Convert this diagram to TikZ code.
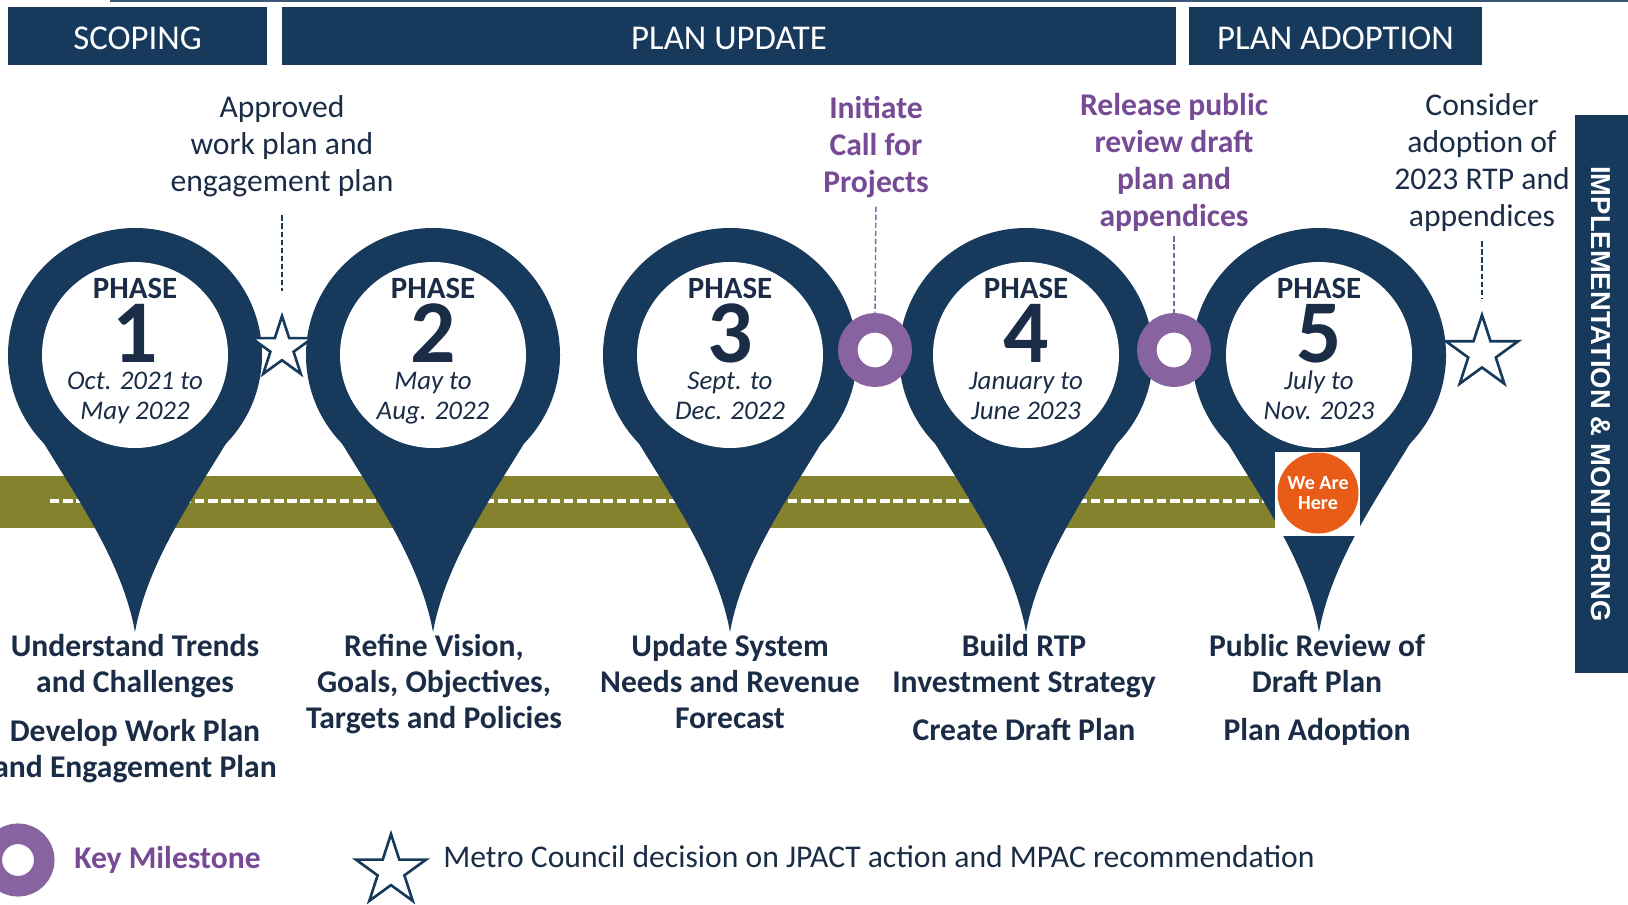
\documentclass[tikz,border=0pt]{standalone}
\usepackage{fontspec}
\setmainfont{Carlito}
\newfontfamily\sidefont{Liberation Sans}
\usetikzlibrary{shapes.geometric}

\definecolor{rtpnavy}{RGB}{23,58,92}
\definecolor{rtpink}{RGB}{27,45,70}
\definecolor{rtppurple}{RGB}{135,99,160}
\definecolor{rtpviolet}{RGB}{118,74,148}
\definecolor{rtpolive}{RGB}{132,130,44}
\definecolor{rtporange}{RGB}{233,92,23}

\tikzset{
  headtext/.style={text=white, font=\fontsize{19.8}{24}\selectfont, anchor=base, inner sep=0},
  phasehead/.style={text=rtpink, font=\bfseries\fontsize{17.6}{20}\selectfont, anchor=base, inner sep=0},
  phasenum/.style={text=rtpink, font=\bfseries\fontsize{51}{55}\selectfont, anchor=base, inner sep=0},
  phasedate/.style={text=rtpink, font=\itshape\fontsize{15.3}{17}\selectfont, anchor=base, inner sep=0},
  toplabel/.style={text=rtpink, font=\fontsize{18}{21.2}\selectfont, align=center, anchor=base, inner sep=0},
  keylabel/.style={toplabel, text=rtpviolet, font=\bfseries\fontsize{18}{21.2}\selectfont},
  steplabel/.style={text=rtpink, font=\bfseries\fontsize{18}{20.3}\selectfont, align=center, anchor=base, inner sep=0},
  milestone/.style={circle, draw=rtppurple, fill=white, line width=11.1pt, minimum size=31pt, inner sep=0},
  council/.style={star, star points=5, star point ratio=2.618, draw=rtpnavy, fill=white, line width=1.5pt, inner sep=0},
  navydash/.style={rtpnavy, line width=0.8pt, dash pattern=on 3pt off 1.6pt},
  violetdash/.style={navydash, rtppurple},
}

\begin{document}
\begin{tikzpicture}[x=0.02cm, y=-0.02cm]
  \useasboundingbox (0,0) rectangle (1628,905);

  % header bars
  \draw[rtpnavy!85!white, line width=1.4pt] (110,1) -- (1628,1);
  \fill[rtpnavy] (8,7) rectangle (267,65);
  \fill[rtpnavy] (282,7) rectangle (1176,65);
  \fill[rtpnavy] (1189,7) rectangle (1482,65);
  \node[headtext] (scoping) at (137.5,50) {SCOPING};
  \node[headtext] (update) at (729,50) {PLAN UPDATE};
  \node[headtext] (adoption) at (1335.5,50) {PLAN ADOPTION};

  \fill[rtpnavy] (1575,115) rectangle (1628,673);
  \node[rotate=-90, text=white, font=\sidefont\bfseries\fontsize{15.6}{18}\selectfont, inner sep=0] (implement) at (1601,394) {IMPLEMENTATION \& MONITORING};

  % road
  \fill[rtpolive] (0,476) rectangle (1275,528);
  \draw[white, line width=1.9pt, dash pattern=on 5.4pt off 2.1pt] (50,501) -- (1265,501);

  % phase pins
  \foreach \cx/\n/\dfrom/\dto in {135/1/Oct. 2021 to/May 2022, 433/2/May to/Aug. 2022,
      730/3/Sept. to/Dec. 2022, 1026/4/January to/June 2023, 1319/5/July to/Nov. 2023} {
    \fill[rtpnavy] (\cx,355) circle[radius=127];
    \fill[rtpnavy] (\cx-127,355) .. controls (\cx-127,420) and (\cx-20,520) .. (\cx,632)
      .. controls (\cx+20,520) and (\cx+127,420) .. (\cx+127,355) -- cycle;
    \fill[white] (\cx,355) circle[radius=93];
    \node[phasehead] (phase\n) at (\cx,298) {PHASE};
    \node[phasenum] (num\n) at (\cx,362) {\n};
    \node[phasedate] (from\n) at (\cx,389) {\dfrom};
    \node[phasedate] (to\n) at (\cx,419) {\dto};
  }

  % current position
  \fill[white] (1275,452) rectangle (1360,536);
  \node[circle, fill=rtporange, minimum size=46.1pt, inner sep=0, text=white, align=center,
    font=\bfseries\fontsize{11.4}{11.6}\selectfont] (here) at (1318,493) {We Are\\Here};

  % milestones and decisions
  \node[council, minimum size=36.4pt] (star1) at (282,348) {};
  \node[milestone] (ms1) at (875,350) {};
  \node[milestone] (ms2) at (1174,350) {};
  \node[council, minimum size=43.2pt] (star2) at (1482,353) {};

  % base is the last line of each label
  \node[toplabel] (approved) at (282,192) {Approved\\work plan and\\engagement plan};
  \node[keylabel] (initiate) at (876,193) {Initiate\\Call for\\Projects};
  \node[keylabel] (release) at (1174,227) {Release public\\review draft\\plan and\\appendices};
  \node[toplabel] (consider) at (1482,227) {Consider\\adoption of\\2023 RTP and\\appendices};

  \draw[navydash, shorten <=10pt, shorten >=12pt] (approved.south) -- (star1.north);
  \draw[violetdash, shorten <=4.5pt] (initiate.south) -- (ms1.north);
  \draw[violetdash, shorten <=2.3pt] (release.south) -- (ms2.north);
  \draw[navydash, shorten <=5pt, shorten >=7pt] (consider.south) -- (star2.north);

  % tasks below each pin
  \node[steplabel] (task1a) at (135,692) {Understand Trends\\and Challenges};
  \node[steplabel] (task1b) at (135,777) {Develop Work Plan\\and Engagement Plan};
  \node[steplabel] (task2) at (434,728) {Refine Vision,\\Goals, Objectives,\\Targets and Policies};
  \node[steplabel] (task3) at (730,728) {Update System\\Needs and Revenue\\Forecast};
  \node[steplabel] (task4a) at (1024,692) {Build RTP\\Investment Strategy};
  \node[steplabel] (task4b) at (1024,740) {Create Draft Plan};
  \node[steplabel] (task5a) at (1317,692) {Public Review of\\Draft Plan};
  \node[steplabel] (task5b) at (1317,740) {Plan Adoption};

  % legend
  \node[milestone, line width=11.7pt, minimum size=29.9pt] (keyring) at (18,860) {};
  \node[keylabel, anchor=base west] (keytext) at (74,868) {Key Milestone};
  \node[council, minimum size=42pt] (keystar) at (391,871) {};
  \node[toplabel, anchor=base west] (startext) at (443,867) {Metro Council decision on JPACT action and MPAC recommendation};
\end{tikzpicture}
\end{document}
